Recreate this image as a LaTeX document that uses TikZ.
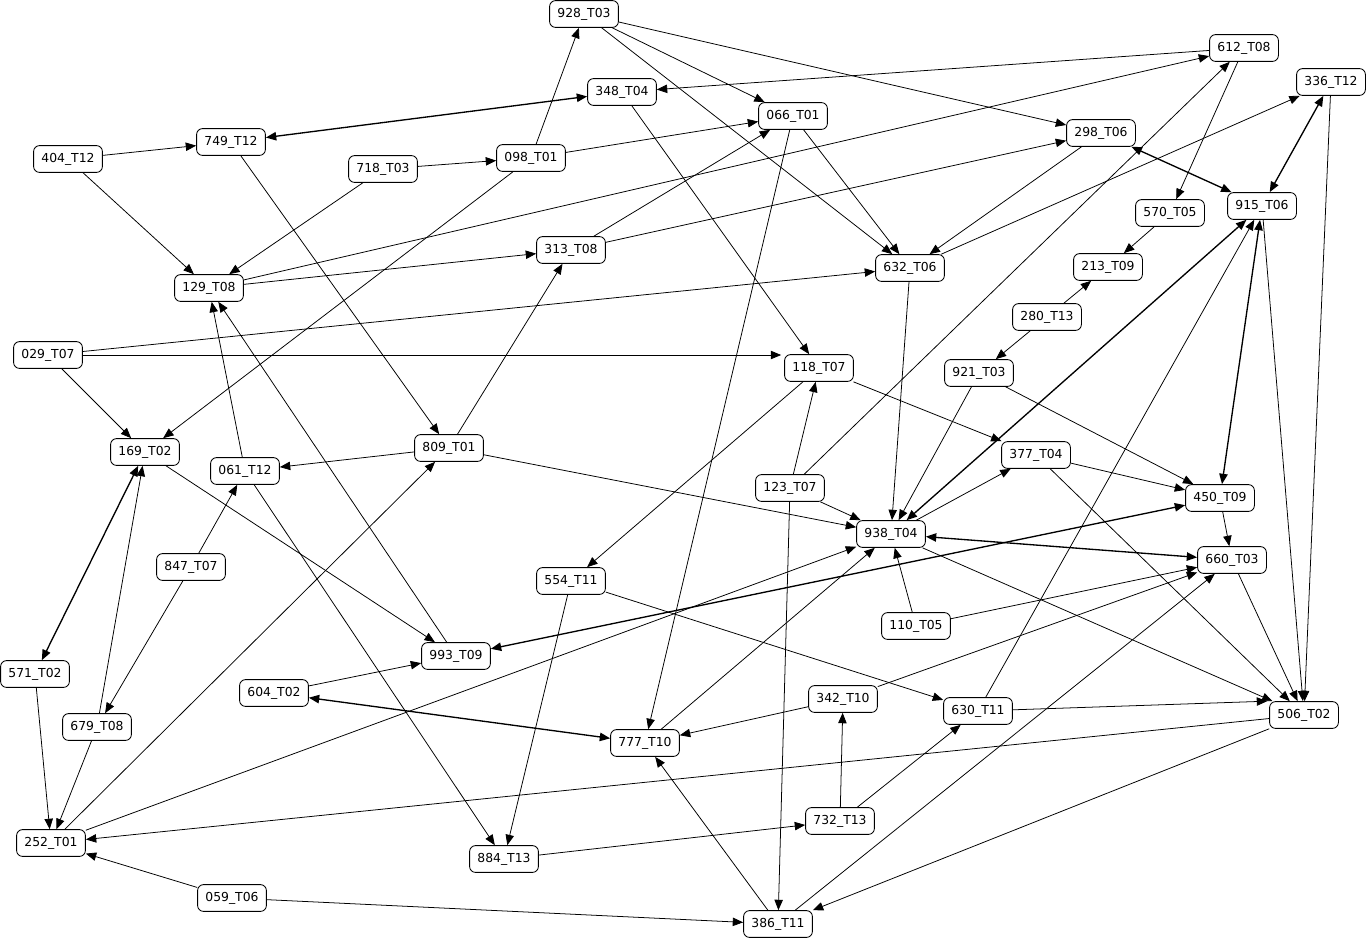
\documentclass[tikz,border=0pt]{standalone}
\usepackage{fontspec}
\setmainfont{DejaVu Sans}
\usepackage{tikz}
\usetikzlibrary{arrows.meta, positioning, calc}

\begin{document}
\begin{tikzpicture}[x=0.025cm, y=-0.025cm,
  task/.style={rectangle, rounded corners=0.15cm, draw=black, fill=white, line width=0.6pt, minimum width=1.72cm, minimum height=0.67cm, inner sep=0pt, align=center, font=\fontsize{8.8}{10}\selectfont},
  arr/.style={-{Triangle[length=2.6mm, width=2.1mm]}, line width=0.55pt},
  arrboth/.style={{Triangle[length=2.6mm, width=2.1mm]}-{Triangle[length=2.6mm, width=2.1mm]}, line width=0.95pt}
]
\useasboundingbox (0,0) rectangle (1368,940);
% nodes
\node[task] (n928) at (584,14) {928\_T03};
\node[task] (n612) at (1244,48) {612\_T08};
\node[task] (n336) at (1331,82) {336\_T12};
\node[task] (n348) at (622,92) {348\_T04};
\node[task] (n066) at (793,116) {066\_T01};
\node[task] (n298) at (1101,133) {298\_T06};
\node[task] (n749) at (231,142) {749\_T12};
\node[task] (n404) at (68,159) {404\_T12};
\node[task] (n718) at (383,169) {718\_T03};
\node[task] (n098) at (531,158) {098\_T01};
\node[task] (n915) at (1262,206) {915\_T06};
\node[task] (n570) at (1170,213) {570\_T05};
\node[task] (n313) at (571,250) {313\_T08};
\node[task] (n632) at (910,268) {632\_T06};
\node[task] (n213) at (1108,267) {213\_T09};
\node[task] (n129) at (209,288) {129\_T08};
\node[task] (n280) at (1047,317) {280\_T13};
\node[task] (n029) at (48,355) {029\_T07};
\node[task] (n118) at (819,368) {118\_T07};
\node[task] (n921) at (979,373) {921\_T03};
\node[task] (n169) at (145,452) {169\_T02};
\node[task] (n809) at (449,448) {809\_T01};
\node[task] (n061) at (245,471) {061\_T12};
\node[task] (n377) at (1036,455) {377\_T04};
\node[task] (n123) at (790,488) {123\_T07};
\node[task] (n450) at (1220,498) {450\_T09};
\node[task] (n938) at (891,534) {938\_T04};
\node[task] (n847) at (191,567) {847\_T07};
\node[task] (n660) at (1232,560) {660\_T03};
\node[task] (n554) at (571,581) {554\_T11};
\node[task] (n110) at (916,626) {110\_T05};
\node[task] (n993) at (456,656) {993\_T09};
\node[task] (n571) at (35,674) {571\_T02};
\node[task] (n604) at (274,693) {604\_T02};
\node[task] (n342) at (843,699) {342\_T10};
\node[task] (n630) at (978,711) {630\_T11};
\node[task] (n506) at (1304,715) {506\_T02};
\node[task] (n679) at (97,727) {679\_T08};
\node[task] (n777) at (645,743) {777\_T10};
\node[task] (n732) at (840,821) {732\_T13};
\node[task] (n252) at (51,843) {252\_T01};
\node[task] (n884) at (504,859) {884\_T13};
\node[task] (n059) at (232,898) {059\_T06};
\node[task] (n386) at (778,924) {386\_T11};
% one-way links
\draw[arr] (n404) -- (n749);
\draw[arr] (n404) -- (n129);
\draw[arr] (n718) -- (n129);
\draw[arr] (n718) -- (n098);
\draw[arr] (n749) -- (n809);
\draw[arr] (n098) -- (n928);
\draw[arr] (n098) -- (n066);
\draw[arr] (n098) -- (n169);
\draw[arr] (n928) -- (n066);
\draw[arr] (n928) -- (n632);
\draw[arr] (n928) -- (n298);
\draw[arr] (n612) -- (n348);
\draw[arr] (n129) -- (n612);
\draw[arr] (n129) -- (n313);
\draw[arr] (n313) -- (n066);
\draw[arr] (n313) -- (n298);
\draw[arr] (n029) -- (n632);
\draw[arr] (n029) -- ($(n029 -| n118.west)+(-3,0)$);
\draw[arr] (n029) -- (n169);
\draw[arr] (n348) -- (n118);
\draw[arr] (n066) -- (n632);
\draw[arr] (n066) -- (n777);
\draw[arr] (n298) -- (n632);
\draw[arr] (n632) -- (n336);
\draw[arr] (n612) -- (n570);
\draw[arr] (n123) -- (n612);
\draw[arr] (n336) -- (n506);
\draw[arr] (n570) -- (n213);
\draw[arr] (n280) -- (n213);
\draw[arr] (n280) -- (n921);
\draw[arr] (n915) -- (n506);
\draw[arr] (n630) -- (n915);
\draw[arr] (n632) -- (n938);
\draw[arr] (n921) -- (n938);
\draw[arr] (n921) -- (n450);
\draw[arr] (n118) -- (n377);
\draw[arr] (n118) -- (n554);
\draw[arr] (n123) -- (n118);
\draw[arr] (n123) -- (n938);
\draw[arr] (n123) -- (n386);
\draw[arr] (n809) -- (n938);
\draw[arr] (n809) -- (n061);
\draw[arr] (n809) -- (n313);
\draw[arr] (n252) -- (n809);
\draw[arr] (n061) -- (n129);
\draw[arr] (n993) -- (n129);
\draw[arr] (n061) -- (n884);
\draw[arr] (n847) -- (n061);
\draw[arr] (n847) -- (n679);
\draw[arr] (n679) -- (n169);
\draw[arr] (n169) -- (n993);
\draw[arr] (n571) -- (n252);
\draw[arr] (n679) -- (n252);
\draw[arr] (n252) -- (n938);
\draw[arr] (n506) -- (n252);
\draw[arr] (n059) -- (n252);
\draw[arr] (n059) -- (n386);
\draw[arr] (n604) -- (n993);
\draw[arr] (n938) -- (n377);
\draw[arr] (n938) -- (n506);
\draw[arr] (n110) -- (n938);
\draw[arr] (n110) -- (n660);
\draw[arr] (n377) -- (n450);
\draw[arr] (n377) -- (n506);
\draw[arr] (n450) -- (n660);
\draw[arr] (n660) -- (n506);
\draw[arr] (n554) -- (n884);
\draw[arr] (n554) -- (n630);
\draw[arr] (n777) -- (n938);
\draw[arr] (n342) -- (n777);
\draw[arr] (n342) -- (n660);
\draw[arr] (n732) -- (n342);
\draw[arr] (n732) -- (n630);
\draw[arr] (n884) -- (n732);
\draw[arr] (n386) -- (n777);
\draw[arr] (n386) -- (n660);
\draw[arr] (n506) -- (n386);
\draw[arr] (n630) -- ($(n506.north west)+(-2,0)$);
% two-way links
\draw[arrboth] (n749) -- (n348);
\draw[arrboth] (n298) -- (n915);
\draw[arrboth] (n336) -- (n915);
\draw[arrboth] (n915) -- (n938);
\draw[arrboth] (n915) -- (n450);
\draw[arrboth] (n169) -- (n571);
\draw[arrboth] (n604) -- (n777);
\draw[arrboth] (n450) -- (n993);
\draw[arrboth] (n938) -- (n660);
\end{tikzpicture}
\end{document}
